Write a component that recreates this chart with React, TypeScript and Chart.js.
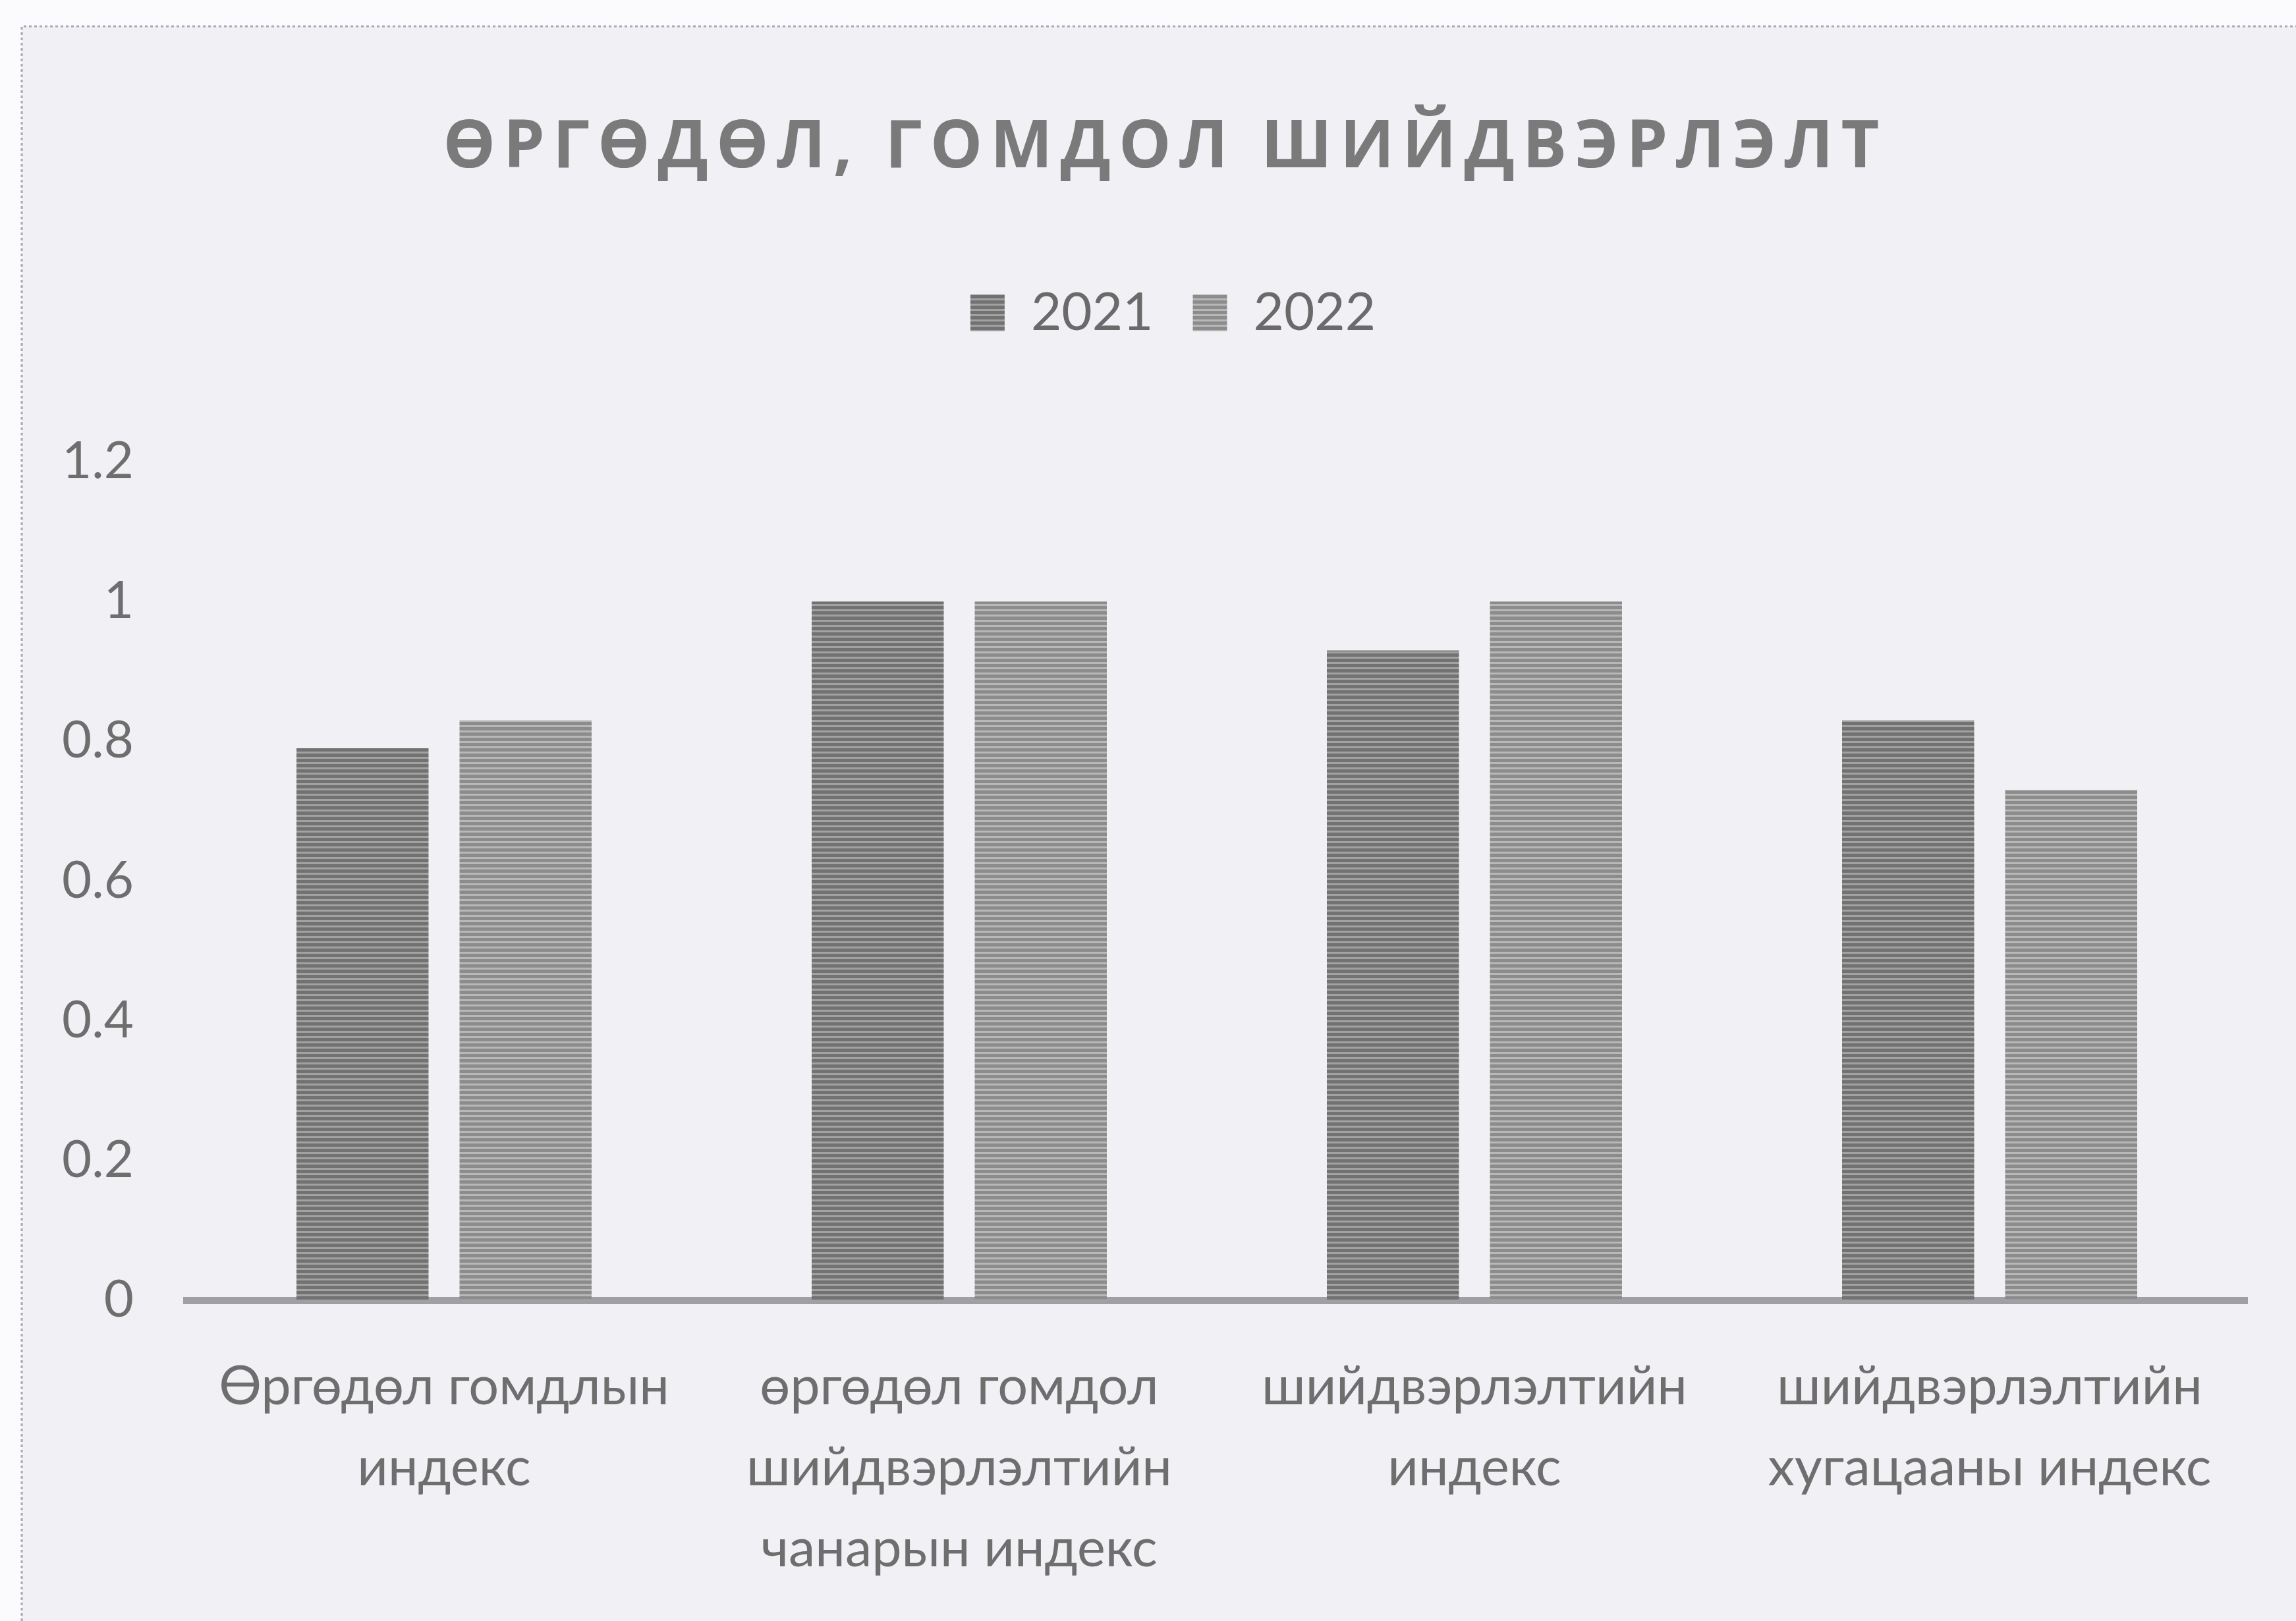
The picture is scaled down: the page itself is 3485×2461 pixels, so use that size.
import React, { useEffect, useRef } from 'react';
import { Chart, registerables } from 'chart.js';

Chart.register(...registerables);

const chartTitle = 'ӨРГӨДӨЛ, ГОМДОЛ ШИЙДВЭРЛЭЛТ';
const categories: string[][] = [
  ['Өргөдөл гомдлын', 'индекс'],
  ['өргөдөл гомдол', 'шийдвэрлэлтийн', 'чанарын индекс'],
  ['шийдвэрлэлтийн', 'индекс'],
  ['шийдвэрлэлтийн', 'хугацааны индекс'],
];
const seriesNames = ['2021', '2022'];
const values2021 = [0.79, 1.0, 0.93, 0.83];
const values2022 = [0.83, 1.0, 1.0, 0.73];
const yTickLabels = ['0', '0.2', '0.4', '0.6', '0.8', '1', '1.2'];

function makeStripes(ctx: CanvasRenderingContext2D, dark: string, light: string) {
  const c = document.createElement('canvas');
  c.width = 8;
  c.height = 8;
  const g = c.getContext('2d')!;
  g.fillStyle = light;
  g.fillRect(0, 0, 8, 8);
  g.fillStyle = dark;
  g.fillRect(0, 0, 8, 5);
  return ctx.createPattern(c, 'repeat')!;
}

const bgPlugin = {
  id: 'bgFrame',
  beforeDraw(chart: any) {
    const { ctx, width, height } = chart;
    ctx.save();
    ctx.fillStyle = '#fbfbfd';
    ctx.fillRect(0, 0, width, height);
    ctx.fillStyle = '#f1f1f5';
    ctx.fillRect(33, 40, width - 33, height - 40);
    ctx.strokeStyle = '#a9a9b2';
    ctx.lineWidth = 3;
    ctx.setLineDash([4, 4]);
    ctx.beginPath();
    ctx.moveTo(33, height);
    ctx.lineTo(33, 40);
    ctx.lineTo(width, 40);
    ctx.stroke();
    ctx.restore();
  },
};

function wrapDraw(box: any, dx: number, spacing: string | null) {
  if (!box || box.__wrapped) return;
  const orig = box.draw;
  box.draw = function (...args: any[]) {
    const c = this.ctx;
    c.save();
    c.translate(dx, 0);
    if (spacing) (c as any).letterSpacing = spacing;
    orig.apply(this, args);
    c.restore();
  };
  box.__wrapped = true;
}

const shiftPlugin = {
  id: 'shiftBlocks',
  beforeDraw(chart: any) {
    wrapDraw(chart.titleBlock, 43, '12px');
    wrapDraw(chart.legend, 55, null);
  },
};

export default function App() {
  const ref = useRef<HTMLCanvasElement>(null);

  useEffect(() => {
    document.body.style.margin = '0';
    document.body.style.overflow = 'hidden';
    const canvas = ref.current!;
    const ctx = canvas.getContext('2d')!;
    const p2021 = makeStripes(ctx, '#727272', '#a2a2a2');
    const p2022 = makeStripes(ctx, '#8c8c8c', '#b8b8b8');

    const chart = new Chart(ctx, {
      type: 'bar',
      data: {
        labels: categories,
        datasets: [
          {
            label: seriesNames[0],
            data: values2021,
            backgroundColor: p2021 as any,
            borderWidth: 0,
            categoryPercentage: 0.633,
            barPercentage: 0.81,
          },
          {
            label: seriesNames[1],
            data: values2022,
            backgroundColor: p2022 as any,
            borderWidth: 0,
            categoryPercentage: 0.633,
            barPercentage: 0.81,
          },
        ],
      },
      options: {
        responsive: false,
        animation: false,
        devicePixelRatio: 1,
        layout: { padding: { left: 40, right: 74, top: 0, bottom: 0 } },
        plugins: {
          title: {
            display: true,
            text: chartTitle,
            color: '#7a7a7a',
            font: { family: '"Open Sans", Lato, sans-serif', size: 100, weight: 'bold', lineHeight: 1.0 },
            padding: { top: 176, bottom: 99 },
          },
          subtitle: {
            display: true,
            text: '',
            weight: 1,
            font: { size: 10, lineHeight: 1.0 },
            padding: { top: 166, bottom: 0 },
          } as any,
          legend: {
            display: true,
            position: 'top',
            labels: {
              color: '#6a6a6a',
              font: { family: 'Lato, sans-serif', size: 80 },
              boxWidth: 52,
              boxHeight: 56,
              padding: 60,
            },
          },
          tooltip: { enabled: false },
        },
        scales: {
          x: {
            grid: { display: false },
            border: { display: true, color: '#a0a0a4', width: 11 },
            ticks: {
              color: '#6e6e6e',
              font: { family: 'Lato, sans-serif', size: 81, lineHeight: 1.52 },
              padding: 62,
              maxRotation: 0,
              autoSkip: false,
            },
            afterFit: (s: any) => {
              s.height = 487;
            },
          },
          y: {
            min: 0,
            max: 1.2,
            grid: { display: false },
            border: { display: false },
            ticks: {
              stepSize: 0.2,
              color: '#6e6e6e',
              font: { family: 'Lato, sans-serif', size: 78 },
              padding: 72,
              callback: (_v: any, i: number) => yTickLabels[i],
            },
            afterFit: (s: any) => {
              s.width = 243;
            },
          },
        },
      },
      plugins: [bgPlugin, shiftPlugin],
    });
    return () => chart.destroy();
  }, []);

  return (
    <canvas
      ref={ref}
      width={3485}
      height={2461}
      style={{ display: 'block', width: 3485, height: 2461 }}
    />
  );
}
